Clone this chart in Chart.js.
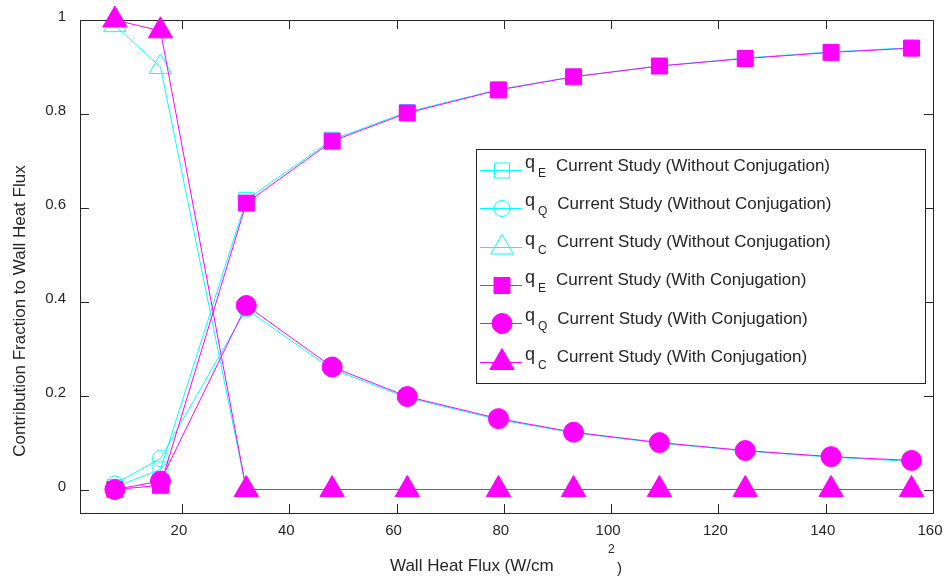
<!DOCTYPE html>
<html>
<head>
<meta charset="utf-8">
<script src="https://cdn.jsdelivr.net/npm/chart.js@4.4.1/dist/chart.umd.min.js"></script>
<style>
  html, body { margin: 0; padding: 0; background: #fff; }
  #wrap { width: 948px; height: 576px; }
</style>
</head>
<body>
<div id="wrap"><canvas id="chart" width="948" height="576"></canvas></div>
<script>
// wall heat flux (W/cm^2)
const xFlux = [7.5, 16, 32, 48, 62, 79, 93, 109, 125, 141, 156];

// without conjugation
const qE_noConj = [0.005, 0.043, 0.617, 0.745, 0.804, 0.852, 0.879, 0.902, 0.919, 0.932, 0.941];
const qQ_noConj = [0.012, 0.066, 0.384, 0.256, 0.196, 0.149, 0.121, 0.099, 0.082, 0.069, 0.060];
const qC_noConj = [0.989, 0.900, 0, 0, 0, 0, 0, 0, 0, 0, 0];

// with conjugation
const qE_conj = [0, 0.009, 0.610, 0.742, 0.802, 0.851, 0.879, 0.902, 0.918, 0.931, 0.940];
const qQ_conj = [0, 0.018, 0.392, 0.261, 0.198, 0.151, 0.122, 0.100, 0.083, 0.070, 0.062];
const qC_conj = [1.0, 0.977, 0, 0, 0, 0, 0, 0, 0, 0, 0];

const xTicks = [20, 40, 60, 80, 100, 120, 140, 160];
const yTicks = [0, 0.2, 0.4, 0.6, 0.8, 1];
const yTickLabels = ['0', '0.2', '0.4', '0.6', '0.8', '1'];

const legendSubs = ['E', 'Q', 'C', 'E', 'Q', 'C'];
const legendTexts = [
  'Current Study (Without Conjugation)',
  'Current Study (Without Conjugation)',
  'Current Study (Without Conjugation)',
  'Current Study (With Conjugation)',
  'Current Study (With Conjugation)',
  'Current Study (With Conjugation)'
];

const CYAN = '#00ffff';
const MAG = '#ff00ff';
const INK = '#262626';
const FONT = '"Liberation Sans", Arial, sans-serif';

function pts(ys) {
  return xFlux.map((x, i) => ({ x: x, y: ys[i] }));
}

function series(ys, style, filled, radius) {
  const col = filled ? MAG : CYAN;
  return {
    data: pts(ys),
    showLine: true,
    borderColor: col,
    borderWidth: 1,
    pointStyle: style,
    pointRadius: radius,
    pointHoverRadius: radius,
    pointBackgroundColor: filled ? MAG : 'rgba(0,0,0,0)',
    pointBorderColor: col,
    pointBorderWidth: 1,
    clip: false,
    order: filled ? 0 : 1
  };
}

const datasets = [
  series(qE_noConj, 'rect', false, 10.6),
  series(qQ_noConj, 'circle', false, 8),
  series(qC_noConj, 'triangle', false, 13),
  series(qE_conj, 'rect', true, 11.3),
  series(qQ_conj, 'circle', true, 10),
  series(qC_conj, 'triangle', true, 14)
];

// marker drawing for the legend
function marker(ctx, style, x, y, r, filled) {
  ctx.beginPath();
  if (style === 'rect') {
    const s = Math.SQRT1_2 * r;
    ctx.rect(x - s, y - s, 2 * s, 2 * s);
  } else if (style === 'circle') {
    ctx.arc(x, y, r, 0, Math.PI * 2);
  } else {
    for (let k = 0; k < 3; k++) {
      const a = k * 2 * Math.PI / 3;
      const px = x + Math.sin(a) * r, py = y - Math.cos(a) * r;
      if (k === 0) ctx.moveTo(px, py); else ctx.lineTo(px, py);
    }
    ctx.closePath();
  }
  if (filled) { ctx.fillStyle = MAG; ctx.fill(); }
  ctx.strokeStyle = filled ? MAG : CYAN;
  ctx.lineWidth = 1;
  ctx.stroke();
}

const frame = {
  id: 'frame',
  beforeDatasetsDraw(chart) {
    const { ctx, chartArea: a, scales } = chart;
    ctx.save();
    ctx.strokeStyle = INK;
    ctx.lineWidth = 1;
    ctx.strokeRect(Math.round(a.left) + 0.5, Math.round(a.top) + 0.5,
      Math.round(a.right - a.left), Math.round(a.bottom - a.top));
    ctx.beginPath();
    const tl = 9;
    xTicks.forEach(v => {
      const px = Math.round(scales.x.getPixelForValue(v)) + 0.5;
      ctx.moveTo(px, a.bottom); ctx.lineTo(px, a.bottom - tl);
      ctx.moveTo(px, a.top); ctx.lineTo(px, a.top + tl);
    });
    yTicks.forEach(v => {
      const py = Math.round(scales.y.getPixelForValue(v)) + 0.5;
      ctx.moveTo(a.left, py); ctx.lineTo(a.left + tl, py);
      ctx.moveTo(a.right, py); ctx.lineTo(a.right - tl, py);
    });
    ctx.stroke();
    ctx.restore();
  },
  afterDraw(chart) {
    const ctx = chart.ctx;
    ctx.save();
    // axis titles
    ctx.fillStyle = INK;
    ctx.font = '17px ' + FONT;
    ctx.textBaseline = 'alphabetic';
    ctx.textAlign = 'left';
    ctx.fillText('Wall Heat Flux (W/cm', 390, 571);
    ctx.font = '12px ' + FONT;
    ctx.fillText('2', 608, 553);
    ctx.font = '15px ' + FONT;
    ctx.fillText(')', 617, 573);

    ctx.save();
    ctx.translate(25, 311);
    ctx.rotate(-Math.PI / 2);
    ctx.font = '17px ' + FONT;
    ctx.textAlign = 'center';
    ctx.fillText('Contribution Fraction to Wall Heat Flux', 0, 0);
    ctx.restore();

    // legend box
    const bx = 476.5, by = 149.5, bw = 449, bh = 234;
    ctx.fillStyle = '#fff';
    ctx.fillRect(bx, by, bw, bh);
    ctx.strokeStyle = INK;
    ctx.lineWidth = 1;
    ctx.strokeRect(bx, by, bw, bh);

    datasets.forEach((d, i) => {
      const ry = 170 + i * 38.3;
      const filled = i >= 3;
      ctx.strokeStyle = filled ? MAG : CYAN;
      ctx.beginPath();
      ctx.moveTo(480, Math.round(ry) + 0.5);
      ctx.lineTo(522, Math.round(ry) + 0.5);
      ctx.stroke();
      marker(ctx, d.pointStyle, 502, Math.round(ry) + 0.5, d.pointRadius, filled);

      ctx.fillStyle = INK;
      ctx.textAlign = 'left';
      ctx.font = '18px ' + FONT;
      ctx.fillText('q', 525, ry - 2);
      ctx.font = '12px ' + FONT;
      ctx.fillText(legendSubs[i], 538, ry + 7);
      const sw = ctx.measureText(legendSubs[i]).width;
      ctx.font = '17px ' + FONT;
      ctx.fillText(legendTexts[i], 538 + sw + 10, ry + 0.5);
    });
    ctx.restore();
  }
};

new Chart(document.getElementById('chart'), {
  type: 'scatter',
  data: { datasets: datasets },
  options: {
    responsive: false,
    animation: false,
    events: [],
    layout: { padding: { left: 0, right: 11, top: 20, bottom: 0 } },
    plugins: { legend: { display: false }, tooltip: { enabled: false } },
    scales: {
      x: {
        type: 'linear',
        min: 1,
        max: 160,
        grid: { display: false, drawTicks: false },
        border: { display: false },
        afterBuildTicks: s => { s.ticks = xTicks.map(v => ({ value: v })); },
        afterFit: s => { s.height = 63; s.paddingLeft = 0; s.paddingRight = 0; },
        ticks: {
          color: INK,
          font: { family: FONT, size: 15 },
          padding: 9,
          labelOffset: -3,
          maxRotation: 0,
          callback: v => String(v)
        }
      },
      y: {
        type: 'linear',
        min: -0.05,
        max: 1,
        grid: { display: false, drawTicks: false },
        border: { display: false },
        afterBuildTicks: s => { s.ticks = yTicks.map(v => ({ value: v })); },
        afterFit: s => { s.width = 80; s.paddingTop = 0; s.paddingBottom = 0; },
        ticks: {
          color: INK,
          font: { family: FONT, size: 15 },
          padding: 14,
          labelOffset: -3,
          callback: v => yTickLabels[yTicks.indexOf(v)] ?? ''
        }
      }
    }
  },
  plugins: [frame]
});
</script>
</body>
</html>
